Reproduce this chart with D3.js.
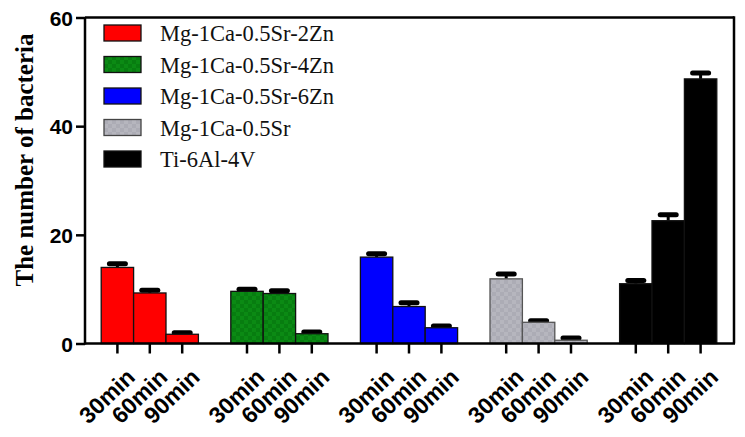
<!DOCTYPE html>
<html><head><meta charset="utf-8">
<script src="https://cdn.jsdelivr.net/npm/d3@7"></script>
<style>body{margin:0;background:#fff}svg{display:block}</style>
</head><body>
<svg id="c" width="745" height="437"></svg>
<script>
const groups = ["Mg-1Ca-0.5Sr-2Zn","Mg-1Ca-0.5Sr-4Zn","Mg-1Ca-0.5Sr-6Zn","Mg-1Ca-0.5Sr","Ti-6Al-4V"];
const times = ["30min","60min","90min"];
const means2Zn = [14.0, 9.3, 1.7];
const means4Zn = [9.6, 9.2, 1.8];
const means6Zn = [15.9, 6.8, 2.9];
const meansSr  = [11.9, 3.9, 0.6];
const meansTi  = [11.0, 22.6, 48.7];
const err2Zn = [0.7, 0.5, 0.3];
const err4Zn = [0.4, 0.5, 0.3];
const err6Zn = [0.6, 0.7, 0.3];
const errSr  = [0.9, 0.3, 0.4];
const errTi  = [0.6, 1.1, 1.1];
const yTicks = [0, 20, 40, 60];

const allMeans = [means2Zn, means4Zn, means6Zn, meansSr, meansTi];
const allErr = [err2Zn, err4Zn, err6Zn, errSr, errTi];
const colors = ["#ff0000","url(#pg)","#0000ff","url(#pgr)","#000000"];

const svg = d3.select("#c");
const defs = svg.append("defs");
function checker(id, c1, c2){
  const p = defs.append("pattern").attr("id", id).attr("patternUnits","userSpaceOnUse").attr("width",8).attr("height",8);
  p.append("rect").attr("width",8).attr("height",8).attr("fill",c1);
  p.append("rect").attr("width",4).attr("height",4).attr("fill",c2);
  p.append("rect").attr("x",4).attr("y",4).attr("width",4).attr("height",4).attr("fill",c2);
}
checker("pg", "#0b8a14", "#077d10");
checker("pgr", "#b6b6be", "#acacb5");

const x0 = d3.scaleBand().domain(groups).range([85, 733]).paddingInner(0.25).paddingOuter(0.125);
const x1 = d3.scaleBand().domain(times).range([0, x0.bandwidth()]).padding(0);
const y = d3.scaleLinear().domain([0, 60]).range([343.5, 17.5]);

// frame top and right
svg.append("line").attr("x1",85).attr("x2",734).attr("y1",y(60)).attr("y2",y(60)).attr("stroke","#000").attr("stroke-width",2.5);
svg.append("line").attr("x1",734).attr("x2",734).attr("y1",y(60)-1.2).attr("y2",y(0)).attr("stroke","#000").attr("stroke-width",2.5);

// bars
groups.forEach((g, gi) => {
  const gx = x0(g);
  times.forEach((t, ti) => {
    const v = allMeans[gi][ti], e = allErr[gi][ti];
    const bx = gx + x1(t), bw = x1.bandwidth();
    const cx = bx + bw/2;
    svg.append("line").attr("x1",cx).attr("x2",cx).attr("y1",y(v)).attr("y2",y(v+e)).attr("stroke","#000").attr("stroke-width",3);
    svg.append("line").attr("x1",cx-8).attr("x2",cx+8).attr("y1",y(v+e)).attr("y2",y(v+e)).attr("stroke","#000").attr("stroke-width",5).attr("stroke-linecap","round");
    svg.append("rect").attr("x",bx).attr("y",y(v)).attr("width",bw).attr("height",y(0)-y(v))
      .attr("fill",colors[gi]).attr("stroke", gi===3 ? "#555" : "#111").attr("stroke-width",1.3);
  });
});

// y axis
const yAxis = d3.axisLeft(y).tickValues(yTicks).tickSize(9).tickPadding(3);
const ya = svg.append("g").attr("transform","translate(85,0)").call(yAxis);
ya.select(".domain").attr("stroke","#000").attr("stroke-width",2.5).attr("d","M0,"+y(60)+"V"+(y(0)+1));
ya.selectAll(".tick line").attr("stroke","#000").attr("stroke-width",2.5);
ya.selectAll(".tick text").attr("font-family","'Liberation Sans', Arial, sans-serif").attr("font-weight","bold").attr("font-size",21).attr("fill","#000").attr("dy","0.36em");

// x axis baseline + ticks + labels
svg.append("line").attr("x1",84).attr("x2",735).attr("y1",y(0)).attr("y2",y(0)).attr("stroke","#000").attr("stroke-width",2.5);
groups.forEach((g, gi) => {
  const axis = d3.axisBottom(x1).tickSize(10).tickPadding(0);
  const ga = svg.append("g").attr("transform","translate("+x0(g)+","+y(0)+")").call(axis);
  ga.select(".domain").remove();
  ga.selectAll(".tick line").attr("stroke","#000").attr("stroke-width",2.5);
  ga.selectAll(".tick text").attr("font-family","'Liberation Sans', Arial, sans-serif").attr("font-weight","bold").attr("font-size",23).attr("fill","#000")
    .attr("text-anchor","end").attr("dy",0).attr("transform","translate(12,28) rotate(-44)");
});

// y title
svg.append("text").attr("transform","translate(33,160) rotate(-90)").attr("text-anchor","middle")
  .attr("font-family","'Liberation Serif','Times New Roman',serif").attr("font-weight","bold").attr("font-size",25).attr("fill","#000")
  .text("The number of bacteria");

// legend
const leg = svg.append("g");
groups.forEach((g, i) => {
  const cy = 33 + i*31.5;
  leg.append("rect").attr("x",104).attr("y",cy-8).attr("width",37).attr("height",16).attr("fill",colors[i]).attr("stroke",i===3?"#444":"#111").attr("stroke-width",1.3);
  leg.append("text").attr("x",160).attr("y",cy+8).attr("font-family","'Liberation Serif','Times New Roman',serif").attr("font-size",22.5).attr("fill","#111").text(g);
});
</script>
</body></html>
